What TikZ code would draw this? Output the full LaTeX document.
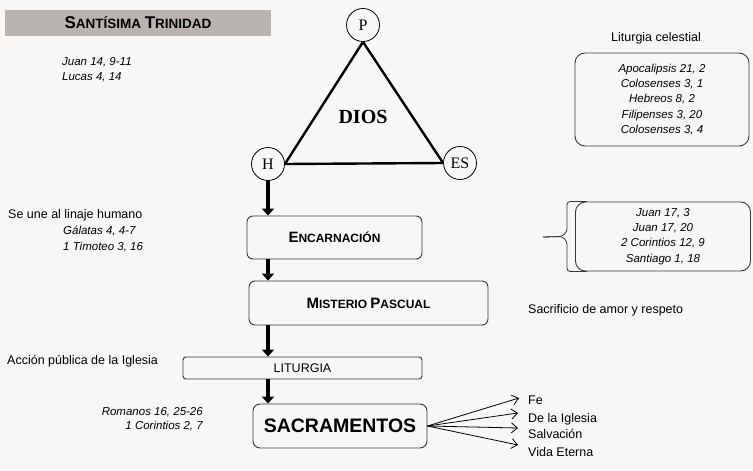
\documentclass[tikz,border=0pt]{standalone}
\usepackage{fontspec}
\setmainfont{Liberation Sans}
\newfontfamily\timesf{Liberation Serif}
\usetikzlibrary{arrows.meta,positioning,calc,backgrounds}
\definecolor{bgpaper}{RGB}{248,247,245}
\definecolor{titlegray}{RGB}{186,180,177}
\definecolor{boxline}{RGB}{55,55,55}
\newcommand{\scw}[3]{{\fontsize{#1}{#1}\selectfont #2}#3}

\begin{document}
\begin{tikzpicture}[x=1pt,y=-1pt,
    txt/.style={inner sep=0pt,font=\fontsize{12.5}{15}\selectfont},
    ref/.style={inner sep=0pt,font=\fontsize{11.5}{15}\selectfont\itshape},
    person/.style={draw,circle,minimum size=33pt,inner sep=0pt,line width=0.8pt,fill=bgpaper,font=\timesf\fontsize{16}{16}\selectfont},
    stage/.style={draw=boxline,rounded corners=6pt,line width=0.9pt,inner sep=0pt},
    refbox/.style={draw=boxline,rounded corners=10pt,line width=0.9pt,inner sep=0pt,align=center,font=\fontsize{11.5}{15.2}\selectfont\itshape},
    down/.style={-{Triangle[length=7pt,width=12pt]},line width=3.8pt},
    fan/.style={-{Straight Barb[length=6pt,width=10pt]},line width=0.8pt},
    brace/.style={line width=0.8pt,draw=boxline,rounded corners=3pt}
  ]
  \useasboundingbox (0,0) rectangle (753,471);
  \begin{scope}[on background layer]
    \fill[bgpaper] (0,0) rectangle (753,471);
  \end{scope}

  % Trinidad
  \node[fill=titlegray,minimum width=266pt,minimum height=26pt,inner sep=0pt,font=\bfseries\fontsize{13.5}{14}\selectfont] (title) at (138,23) {\scw{17pt}{S}{ANTÍSIMA} \scw{17pt}{T}{RINIDAD}};
  \node[ref,anchor=north west,align=left] (jn14) at (62,57.5) {Juan 14, 9-11\\Lucas 4, 14};

  \node[person] (p) at (363,25) {P};
  \node[person] (h) at (268,164) {H};
  \node[person] (es) at (460,163) {ES};
  \begin{scope}[on background layer]
    \draw[line width=2.4pt] (p.south) -- (h.east) -- (es.west) -- cycle;
  \end{scope}
  \node[font=\timesf\bfseries\fontsize{20}{20}\selectfont] (dios) at (363,117) {DIOS};

  % camino
  \node[stage,minimum width=175pt,minimum height=43pt,font=\bfseries\fontsize{12}{12}\selectfont] (enc) at (334.5,237.5) {\scw{15pt}{E}{NCARNACIÓN}};
  \node[stage,minimum width=239pt,minimum height=44pt,font=\bfseries\fontsize{12}{12}\selectfont] (mis) at (368.5,303) {\scw{15pt}{M}{ISTERIO} \scw{15pt}{P}{ASCUAL}};
  \node[stage,minimum width=239pt,minimum height=22pt,rounded corners=3pt,font=\fontsize{12.5}{14}\selectfont] (lit) at (302.5,368) {LITURGIA};
  \node[stage,minimum width=174pt,minimum height=44pt,rounded corners=7pt,font=\bfseries\fontsize{19.5}{20}\selectfont] (sac) at (340,426) {SACRAMENTOS};

  \draw[down] (h.south) -- (enc.north -| h);
  \draw[down] (enc.south -| h) -- (mis.north -| h);
  \draw[down] (mis.south -| h) -- (lit.north -| h);
  \draw[down] (lit.south -| h) -- (sac.north -| h);

  % notas izquierda
  \node[txt,anchor=base west] (une) at (8,218) {Se une al linaje humano};
  \node[ref,anchor=north west,align=left,font=\fontsize{11.5}{16}\selectfont\itshape] (gal) at (63,225.5) {Gálatas 4, 4-7\\1 Timoteo 3, 16};
  \node[txt,anchor=base west] (acc) at (7,364) {Acción pública de la Iglesia};
  \node[ref,anchor=north east,align=right,font=\fontsize{11.5}{14}\selectfont\itshape] (rom) at (203,407.5) {Romanos 16, 25-26\\1 Corintios 2, 7};

  % notas derecha
  \node[refbox,minimum width=174pt,minimum height=93pt] (cel) at (662,99.5) {Apocalipsis 21, 2\\Colosenses 3, 1\\Hebreos 8, 2\\Filipenses 3, 20\\Colosenses 3, 4};
  \node[txt,anchor=base] (celt) at (656,41) {Liturgia celestial};

  \node[refbox,minimum width=175pt,minimum height=69pt] (jn17) at (663,236.5) {Juan 17, 3\\Juan 17, 20\\2 Corintios 12, 9\\Santiago 1, 18};
  \coordinate (ptr) at (543,237);
  \draw[brace] (ptr) -- ([xshift=-13pt]jn17.west) -- ([xshift=-8pt,yshift=5pt]jn17.west) |- ([xshift=12pt]jn17.north west);
  \draw[brace] (ptr) -- ([xshift=-13pt]jn17.west) -- ([xshift=-8pt,yshift=-5pt]jn17.west) |- ([xshift=12pt]jn17.south west);

  \node[txt,anchor=base west] (sacr) at (528,313) {Sacrificio de amor y respeto};

  % frutos
  \node[txt,anchor=base west] (fe) at (528,404) {Fe};
  \node[txt,anchor=base west] (igl) at (528,422) {De la Iglesia};
  \node[txt,anchor=base west] (sal) at (528,438) {Salvación};
  \node[txt,anchor=base west] (vid) at (528,456) {Vida Eterna};
  \coordinate (tfe) at (519,398);
  \coordinate (tigl) at (518,413);
  \coordinate (tsal) at (518,428);
  \coordinate (tvid) at (518,445);
  \foreach \t in {tfe,tigl,tsal,tvid}
    \draw[fan] (sac.east) -- (\t);
\end{tikzpicture}
\end{document}
